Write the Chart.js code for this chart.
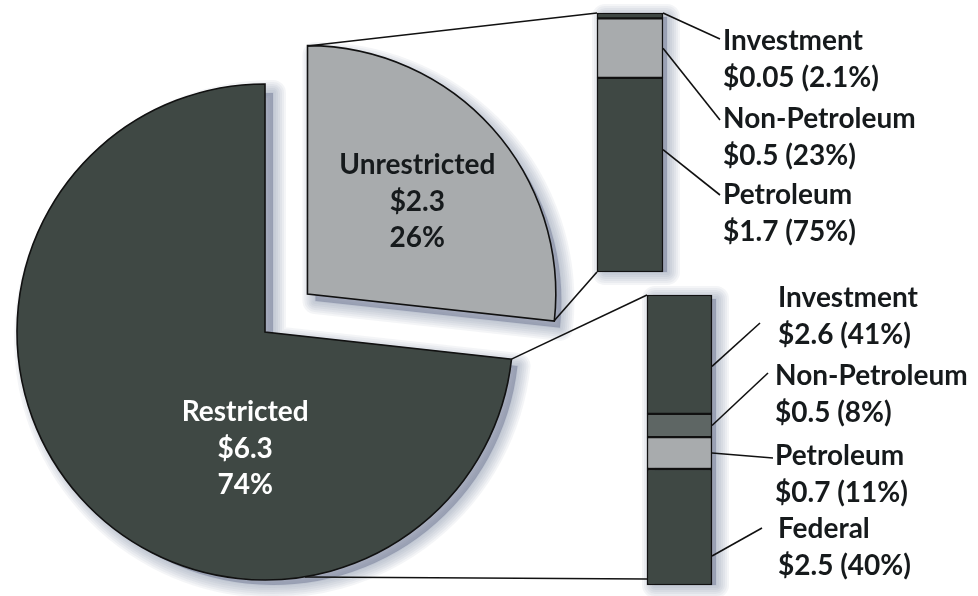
<!DOCTYPE html>
<html>
<head>
<meta charset="utf-8">
<script src="https://cdn.jsdelivr.net/npm/chart.js@4"></script>
<style>
  body { margin: 0; background: #fff; }
  #wrap { position: relative; width: 978px; height: 596px; background: #fff; }
  #wrap canvas { position: absolute; left: 0; top: 0; }
</style>
</head>
<body>
<div id="wrap">
  <canvas id="pieChart" width="978" height="596"></canvas>
  <canvas id="topBar" width="978" height="596"></canvas>
  <canvas id="bottomBar" width="978" height="596"></canvas>
</div>
<script>
// pie: total split
const pieLabels = ['Unrestricted', 'Restricted'];
const pieValues = [2.3, 6.3];
const piePercents = [26, 74];

// breakdown of unrestricted (bottom to top)
const unrestrictedLabels = ['Petroleum', 'Non-Petroleum', 'Investment'];
const unrestrictedValues = [1.7, 0.5, 0.05];
const unrestrictedPercents = [75, 23, 2.1];

// breakdown of restricted (bottom to top)
const restrictedLabels = ['Federal', 'Petroleum', 'Non-Petroleum', 'Investment'];
const restrictedValues = [2.5, 0.7, 0.5, 2.6];
const restrictedPercents = [40, 11, 8, 41];

const DARK = '#3f4844';
const MID = '#5e6664';
const LIGHT = '#a8abad';
const INK = '#161a1c';
const FONT = 'bold 28px Lato, "Open Sans", sans-serif';

// where the text sits inside each slice (fraction of radius, from slice centre)
const pieTextPos = [{dx: 0.443, dy: -0.335, color: INK}, {dx: -0.08, dy: 0.508, color: '#fff'}];

function sliceGeom(chart, i) {
  const arc = chart.getDatasetMeta(0).data[i];
  const off = (chart.data.datasets[0].offset[i] || 0) / 4;   // chart.js moves arcs by offset/4
  const mid = (arc.startAngle + arc.endAngle) / 2;
  return {
    cx: arc.x + Math.cos(mid) * off,
    cy: arc.y + Math.sin(mid) * off,
    r: arc.outerRadius,
    start: arc.startAngle,
    end: arc.endAngle
  };
}

function barBox(chart) {
  const els = chart.data.datasets.map((d, i) => chart.getDatasetMeta(i).data[0]);
  return {
    left: els[0].x - els[0].width / 2,
    right: els[0].x + els[0].width / 2,
    top: Math.min(...els.map(e => Math.min(e.y, e.base))),
    bottom: Math.max(...els.map(e => Math.max(e.y, e.base)))
  };
}

// soft shadow: a few widening translucent strokes around an offset copy of the shape
function softShadow(c, tracePath) {
  c.save();
  c.fillStyle = 'rgba(110,118,145,0.5)';
  c.strokeStyle = 'rgba(110,118,145,0.075)';
  c.lineJoin = 'round';
  for (let w = 26; w >= 2; w -= 4) {
    c.lineWidth = w;
    tracePath();
    c.stroke();
  }
  tracePath();
  c.fill();
  c.restore();
}

const pieShadow = {
  id: 'pieShadow',
  beforeDraw(chart) {
    const c = chart.ctx;
    pieLabels.forEach((n, i) => {
      const g = sliceGeom(chart, i);
      const x = g.cx + 8, y = g.cy + 7;
      softShadow(c, () => {
        c.beginPath();
        c.moveTo(x, y);
        c.arc(x, y, g.r - 2, g.start, g.end);
        c.closePath();
      });
    });
  }
};

const pieText = {
  id: 'pieText',
  afterDraw(chart) {
    const c = chart.ctx;
    c.save();
    c.font = FONT;
    c.textAlign = 'center';
    c.textBaseline = 'alphabetic';
    pieLabels.forEach((name, i) => {
      const g = sliceGeom(chart, i);
      const x = g.cx + pieTextPos[i].dx * g.r;
      const y = g.cy + pieTextPos[i].dy * g.r;
      c.fillStyle = pieTextPos[i].color;
      c.fillText(name, x, y - 37);
      c.fillText('$' + pieValues[i], x, y);
      c.fillText(piePercents[i] + '%', x, y + 36);
    });
    c.restore();
  }
};

const pieChart = new Chart(document.getElementById('pieChart'), {
  type: 'pie',
  data: {
    labels: pieLabels,
    datasets: [{
      data: pieValues,
      backgroundColor: [LIGHT, DARK],
      borderColor: '#111',
      borderWidth: 1.6,
      borderJoinStyle: 'miter',
      offset: [228, 0],
      radius: 248,
      clip: false
    }]
  },
  options: {
    responsive: false,
    animation: false,
    events: [],
    layout: { padding: { left: 0, right: 448, top: 68, bottom: 0 } },
    plugins: { legend: { display: false }, tooltip: { enabled: false } }
  },
  plugins: [pieShadow, pieText]
});

function makeBar(id, names, values, percents, colors, area, guides, extra) {
  const total = percents.reduce((a, b) => a + b, 0);
  const barShadow = {
    id: 'barShadow',
    beforeDraw(chart) {
      const b = barBox(chart);
      const c = chart.ctx;
      softShadow(c, () => {
        c.beginPath();
        c.rect(b.left + 8, b.top + 4, b.right - b.left - 4, b.bottom - b.top - 4);
      });
    }
  };
  const barText = {
    id: 'barText',
    afterDraw(chart) {
      const c = chart.ctx;
      c.save();
      c.strokeStyle = '#111';
      c.lineWidth = 1.6;
      c.fillStyle = INK;
      c.font = FONT;
      c.textBaseline = 'alphabetic';
      names.forEach((name, i) => {
        const el = chart.getDatasetMeta(i).data[0];
        const g = guides[i];
        const top = Math.min(el.y, el.base), bottom = Math.max(el.y, el.base);
        c.beginPath();
        c.moveTo(el.x + el.width / 2, top + (bottom - top) * g.t);
        c.lineTo(g.ex, g.ey);
        c.stroke();
        c.fillText(name, g.tx, g.ty);
        c.fillText('$' + values[i] + ' (' + percents[i] + '%)', g.tx, g.ty + 37);
      });
      c.restore();
    }
  };
  return new Chart(document.getElementById(id), {
    type: 'bar',
    data: {
      labels: [''],
      datasets: names.map((n, i) => ({
        label: n,
        data: [percents[i]],
        backgroundColor: colors[i],
        borderColor: '#111',
        borderWidth: 1.5,
        borderSkipped: false,
        barPercentage: 1,
        categoryPercentage: 1,
        clip: false
      }))
    },
    options: {
      responsive: false,
      animation: false,
      events: [],
      layout: { padding: area },
      scales: {
        x: { stacked: true, display: false },
        y: { stacked: true, display: false, min: 0, max: total }
      },
      plugins: { legend: { display: false }, tooltip: { enabled: false } }
    },
    plugins: [barShadow, barText].concat(extra || [])
  });
}

const topBar = makeBar('topBar', unrestrictedLabels, unrestrictedValues, unrestrictedPercents,
  [DARK, LIGHT, DARK],
  { left: 597, right: 315, top: 13, bottom: 324 },
  [
    { t: 0.37, ex: 720, ey: 195, tx: 723, ty: 204 },
    { t: 0.5, ex: 720, ey: 120, tx: 723, ty: 128 },
    { t: 0, ex: 720, ey: 39, tx: 723, ty: 50 }
  ]);

// lines joining the pie slices to their breakdown bars
const connectors = {
  id: 'connectors',
  afterDraw(chart) {
    const c = chart.ctx;
    const u = sliceGeom(pieChart, 0);
    const r = sliceGeom(pieChart, 1);
    const tb = barBox(topBar);
    const bb = barBox(chart);
    const segs = [
      [u.cx + u.r * Math.cos(u.start), u.cy + u.r * Math.sin(u.start), tb.left, tb.top],
      [u.cx + u.r * Math.cos(u.end), u.cy + u.r * Math.sin(u.end), tb.left, tb.bottom],
      [r.cx + r.r * Math.cos(r.start), r.cy + r.r * Math.sin(r.start), bb.left, bb.top],
      [r.cx + 40, r.cy + r.r - 3, bb.left, bb.bottom - 6]
    ];
    c.save();
    c.strokeStyle = '#111';
    c.lineWidth = 1.6;
    segs.forEach(s => {
      c.beginPath();
      c.moveTo(s[0], s[1]);
      c.lineTo(s[2], s[3]);
      c.stroke();
    });
    c.restore();
  }
};

const bottomBar = makeBar('bottomBar', restrictedLabels, restrictedValues, restrictedPercents,
  [DARK, LIGHT, MID, DARK],
  { left: 647, right: 266, top: 295, bottom: 11 },
  [
    { t: 0.75, ex: 762, ey: 528, tx: 778, ty: 538 },
    { t: 0.5, ex: 773, ey: 458, tx: 775, ty: 465 },
    { t: 0.5, ex: 768, ey: 373, tx: 775, ty: 385 },
    { t: 0.6, ex: 760, ey: 323, tx: 778, ty: 307 }
  ],
  [connectors]);
</script>
</body>
</html>
